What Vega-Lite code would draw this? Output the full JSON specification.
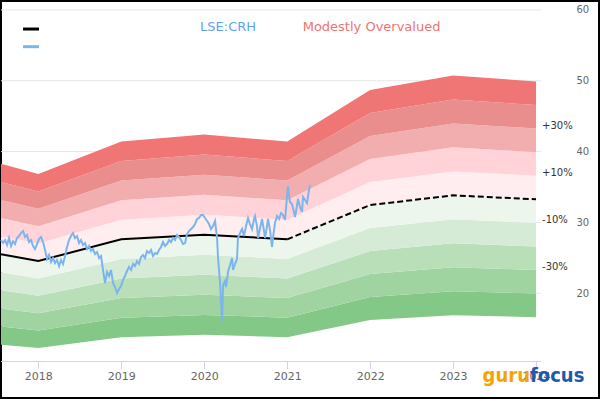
{
"$schema": "https://vega.github.io/schema/vega-lite/v6.json",
"width": 598, "height": 397,
"autosize": {"type": "none"},
"padding": {"left": 1, "top": 1, "right": 1, "bottom": 22},
"background": "white",
"config": {"view": {"stroke": "#000000", "strokeWidth": 2}},
"datasets": {
"gfv": [
{"t":2017.55,"m50":12.76,"m40":15.31,"m30":17.86,"m20":20.42,"m10":22.97,"gf":25.52,"p10":28.07,"p20":30.62,"p30":33.18,"p40":35.73,"p50":38.28},
{"t":2018,"m50":12.28,"m40":14.74,"m30":17.19,"m20":19.65,"m10":22.10,"gf":24.56,"p10":27.02,"p20":29.47,"p30":31.93,"p40":34.38,"p50":36.84},
{"t":2019,"m50":13.81,"m40":16.57,"m30":19.33,"m20":22.10,"m10":24.86,"gf":27.62,"p10":30.38,"p20":33.14,"p30":35.91,"p40":38.67,"p50":41.43},
{"t":2020,"m50":14.14,"m40":16.96,"m30":19.79,"m20":22.62,"m10":25.44,"gf":28.27,"p10":31.10,"p20":33.92,"p30":36.75,"p40":39.58,"p50":42.41},
{"t":2021,"m50":13.81,"m40":16.57,"m30":19.33,"m20":22.10,"m10":24.86,"gf":27.62,"p10":30.38,"p20":33.14,"p30":35.91,"p40":38.67,"p50":41.43},
{"t":2022,"m50":16.23,"m40":19.48,"m30":22.72,"m20":25.97,"m10":29.21,"gf":32.46,"p10":35.71,"p20":38.95,"p30":42.20,"p40":45.44,"p50":48.69},
{"t":2023,"m50":16.92,"m40":20.30,"m30":23.68,"m20":27.06,"m10":30.45,"gf":33.83,"p10":37.21,"p20":40.60,"p30":43.98,"p40":47.36,"p50":50.75},
{"t":2024,"m50":16.64,"m40":19.96,"m30":23.29,"m20":26.62,"m10":29.94,"gf":33.27,"p10":36.60,"p20":39.92,"p30":43.25,"p40":46.58,"p50":49.91}
],
"price": [
{"t":2017.550,"price":27.52},{"t":2017.574,"price":27.10},{"t":2017.599,"price":27.52},{"t":2017.623,"price":26.82},{"t":2017.647,"price":27.81},{"t":2017.671,"price":26.68},{"t":2017.695,"price":27.38},{"t":2017.719,"price":26.96},{"t":2017.743,"price":27.81},{"t":2017.767,"price":28.09},{"t":2017.791,"price":28.51},{"t":2017.816,"price":28.79},{"t":2017.840,"price":27.95},{"t":2017.864,"price":28.23},{"t":2017.888,"price":27.24},{"t":2017.912,"price":27.52},{"t":2017.936,"price":26.68},{"t":2017.960,"price":26.25},{"t":2017.984,"price":26.96},{"t":2018.008,"price":27.66},{"t":2018.033,"price":27.95},{"t":2018.057,"price":27.24},{"t":2018.081,"price":26.11},{"t":2018.105,"price":24.84},{"t":2018.129,"price":25.41},{"t":2018.153,"price":24.42},{"t":2018.177,"price":24.98},{"t":2018.201,"price":24.28},{"t":2018.225,"price":24.70},{"t":2018.250,"price":23.85},{"t":2018.274,"price":24.70},{"t":2018.298,"price":24.14},{"t":2018.322,"price":25.26},{"t":2018.346,"price":26.54},{"t":2018.370,"price":27.52},{"t":2018.394,"price":28.09},{"t":2018.418,"price":28.51},{"t":2018.442,"price":27.81},{"t":2018.467,"price":28.09},{"t":2018.491,"price":27.10},{"t":2018.515,"price":27.52},{"t":2018.539,"price":26.82},{"t":2018.563,"price":27.10},{"t":2018.587,"price":26.25},{"t":2018.611,"price":26.68},{"t":2018.635,"price":25.97},{"t":2018.659,"price":26.25},{"t":2018.684,"price":25.55},{"t":2018.708,"price":25.83},{"t":2018.732,"price":24.98},{"t":2018.756,"price":25.26},{"t":2018.780,"price":23.29},{"t":2018.804,"price":21.45},{"t":2018.828,"price":23.01},{"t":2018.852,"price":22.44},{"t":2018.876,"price":23.29},{"t":2018.901,"price":21.45},{"t":2018.925,"price":20.89},{"t":2018.949,"price":20.04},{"t":2018.973,"price":20.61},{"t":2018.997,"price":21.03},{"t":2019.021,"price":21.88},{"t":2019.045,"price":22.44},{"t":2019.069,"price":23.15},{"t":2019.093,"price":23.71},{"t":2019.118,"price":23.29},{"t":2019.142,"price":24.14},{"t":2019.166,"price":23.85},{"t":2019.190,"price":24.56},{"t":2019.214,"price":24.14},{"t":2019.238,"price":25.12},{"t":2019.262,"price":25.41},{"t":2019.286,"price":24.98},{"t":2019.310,"price":25.97},{"t":2019.335,"price":25.69},{"t":2019.359,"price":26.11},{"t":2019.383,"price":25.26},{"t":2019.407,"price":25.69},{"t":2019.431,"price":25.55},{"t":2019.455,"price":26.11},{"t":2019.479,"price":26.54},{"t":2019.503,"price":27.24},{"t":2019.527,"price":26.68},{"t":2019.552,"price":26.96},{"t":2019.576,"price":27.52},{"t":2019.600,"price":27.24},{"t":2019.624,"price":27.81},{"t":2019.648,"price":27.52},{"t":2019.672,"price":28.23},{"t":2019.696,"price":27.95},{"t":2019.720,"price":27.52},{"t":2019.744,"price":26.96},{"t":2019.769,"price":27.10},{"t":2019.793,"price":28.37},{"t":2019.817,"price":28.79},{"t":2019.841,"price":29.08},{"t":2019.865,"price":29.36},{"t":2019.889,"price":29.78},{"t":2019.913,"price":30.49},{"t":2019.937,"price":30.63},{"t":2019.961,"price":31.05},{"t":2019.986,"price":31.05},{"t":2020.010,"price":30.63},{"t":2020.034,"price":30.20},{"t":2020.058,"price":29.78},{"t":2020.082,"price":29.08},{"t":2020.106,"price":29.50},{"t":2020.130,"price":30.20},{"t":2020.154,"price":27.95},{"t":2020.166,"price":25.12},{"t":2020.190,"price":21.60},{"t":2020.215,"price":16.09},{"t":2020.227,"price":21.17},{"t":2020.251,"price":21.74},{"t":2020.263,"price":20.89},{"t":2020.287,"price":23.01},{"t":2020.311,"price":23.99},{"t":2020.335,"price":24.98},{"t":2020.347,"price":23.29},{"t":2020.371,"price":24.14},{"t":2020.395,"price":24.84},{"t":2020.407,"price":27.81},{"t":2020.432,"price":28.51},{"t":2020.456,"price":29.08},{"t":2020.480,"price":28.09},{"t":2020.504,"price":29.50},{"t":2020.528,"price":30.63},{"t":2020.552,"price":29.78},{"t":2020.576,"price":29.08},{"t":2020.600,"price":30.49},{"t":2020.612,"price":30.91},{"t":2020.636,"price":29.50},{"t":2020.649,"price":27.81},{"t":2020.673,"price":29.22},{"t":2020.697,"price":30.49},{"t":2020.721,"price":28.79},{"t":2020.733,"price":27.81},{"t":2020.757,"price":29.50},{"t":2020.769,"price":30.49},{"t":2020.793,"price":28.93},{"t":2020.817,"price":26.54},{"t":2020.829,"price":27.81},{"t":2020.853,"price":29.92},{"t":2020.878,"price":30.91},{"t":2020.902,"price":30.49},{"t":2020.926,"price":31.33},{"t":2020.950,"price":31.05},{"t":2020.974,"price":30.35},{"t":2020.986,"price":32.04},{"t":2021.010,"price":35.14},{"t":2021.022,"price":33.87},{"t":2021.034,"price":32.89},{"t":2021.058,"price":32.60},{"t":2021.082,"price":31.48},{"t":2021.095,"price":30.77},{"t":2021.119,"price":32.46},{"t":2021.131,"price":33.31},{"t":2021.155,"price":32.18},{"t":2021.179,"price":31.48},{"t":2021.191,"price":33.59},{"t":2021.215,"price":33.17},{"t":2021.239,"price":32.75},{"t":2021.263,"price":34.58},{"t":2021.275,"price":35.29}
],
"grid": [{"v":20},{"v":30},{"v":40},{"v":50},{"v":60}],
"pct": [{"label":"+30%","v":43.25},{"label":"+10%","v":36.60},{"label":"-10%","v":29.94},{"label":"-30%","v":23.29}],
"one": [{"k":1}]
},
"layer": [
{"data": {"name": "grid"}, "mark": {"type": "rule", "color": "#e6e6e6", "strokeWidth": 1},
 "encoding": {"x": {"datum": 2017.55}, "x2": {"datum": 2024.06},
  "y": {"field": "v", "type": "quantitative", "title": null,
   "scale": {"domain": [5.23, 61.256], "nice": false, "zero": false},
   "axis": {"orient": "right", "values": [20,30,40,50,60], "offset": -23, "domain": false, "grid": false, "ticks": false, "tickSize": 0,
     "labelPadding": 0, "labelAlign": "left", "labelBaseline": "middle", "labelColor": "#666666", "labelFontSize": 10, "labelFont": "DejaVu Sans"}}}},
{"data": {"name": "gfv"}, "mark": {"type": "area", "color": "#84c888", "opacity": 1},
 "encoding": {
  "x": {"field": "t", "type": "quantitative", "title": null,
    "scale": {"domain": [2017.55, 2024.759], "nice": false, "zero": false},
    "axis": {"values": [2018,2019,2020,2021,2022,2023,2024], "format": "d", "offset": -36.5, "domain": false, "grid": false,
      "ticks": true, "tickColor": "#ccd6eb", "tickSize": 7, "tickWidth": 1, "labelColor": "#666666", "labelFontSize": 11,
      "labelFont": "DejaVu Sans", "labelPadding": 2, "labelFlush": false}},
  "y": {"field": "m50", "type": "quantitative", "title": null}, "y2": {"field": "m40"}}},
{"data": {"name": "gfv"}, "mark": {"type": "area", "color": "#9fd3a0", "opacity": 1}, "encoding": {"x": {"field": "t", "type": "quantitative", "title": null}, "y": {"field": "m40", "type": "quantitative", "title": null}, "y2": {"field": "m30"}}},
{"data": {"name": "gfv"}, "mark": {"type": "area", "color": "#b8dfb8", "opacity": 1}, "encoding": {"x": {"field": "t", "type": "quantitative", "title": null}, "y": {"field": "m30", "type": "quantitative", "title": null}, "y2": {"field": "m20"}}},
{"data": {"name": "gfv"}, "mark": {"type": "area", "color": "#d5ebd5", "opacity": 1}, "encoding": {"x": {"field": "t", "type": "quantitative", "title": null}, "y": {"field": "m20", "type": "quantitative", "title": null}, "y2": {"field": "m10"}}},
{"data": {"name": "gfv"}, "mark": {"type": "area", "color": "#ecf6ec", "opacity": 1}, "encoding": {"x": {"field": "t", "type": "quantitative", "title": null}, "y": {"field": "m10", "type": "quantitative", "title": null}, "y2": {"field": "gf"}}},
{"data": {"name": "gfv"}, "mark": {"type": "area", "color": "#ffedef", "opacity": 1}, "encoding": {"x": {"field": "t", "type": "quantitative", "title": null}, "y": {"field": "gf", "type": "quantitative", "title": null}, "y2": {"field": "p10"}}},
{"data": {"name": "gfv"}, "mark": {"type": "area", "color": "#ffd3d8", "opacity": 1}, "encoding": {"x": {"field": "t", "type": "quantitative", "title": null}, "y": {"field": "p10", "type": "quantitative", "title": null}, "y2": {"field": "p20"}}},
{"data": {"name": "gfv"}, "mark": {"type": "area", "color": "#f2aeae", "opacity": 1}, "encoding": {"x": {"field": "t", "type": "quantitative", "title": null}, "y": {"field": "p20", "type": "quantitative", "title": null}, "y2": {"field": "p30"}}},
{"data": {"name": "gfv"}, "mark": {"type": "area", "color": "#ea8d8d", "opacity": 1}, "encoding": {"x": {"field": "t", "type": "quantitative", "title": null}, "y": {"field": "p30", "type": "quantitative", "title": null}, "y2": {"field": "p40"}}},
{"data": {"name": "gfv"}, "mark": {"type": "area", "color": "#f07575", "opacity": 1}, "encoding": {"x": {"field": "t", "type": "quantitative", "title": null}, "y": {"field": "p40", "type": "quantitative", "title": null}, "y2": {"field": "p50"}}},
{"data": {"name": "gfv"}, "transform": [{"filter": "datum.t <= 2021"}], "mark": {"type": "line", "color": "#000000", "strokeWidth": 2},
 "encoding": {"x": {"field": "t", "type": "quantitative", "title": null}, "y": {"field": "gf", "type": "quantitative", "title": null}}},
{"data": {"name": "gfv"}, "transform": [{"filter": "datum.t >= 2021"}], "mark": {"type": "line", "color": "#000000", "strokeWidth": 2, "strokeDash": [6, 3]},
 "encoding": {"x": {"field": "t", "type": "quantitative", "title": null}, "y": {"field": "gf", "type": "quantitative", "title": null}}},
{"data": {"name": "price"}, "mark": {"type": "line", "color": "#7cb5ec", "strokeWidth": 2},
 "encoding": {"x": {"field": "t", "type": "quantitative", "title": null}, "y": {"field": "price", "type": "quantitative", "title": null}}},
{"data": {"name": "one"}, "mark": {"type": "rule", "color": "#ccd6eb", "strokeWidth": 1},
 "encoding": {"x": {"datum": 2017.55}, "x2": {"datum": 2024.06}, "y": {"datum": 10.37}}},
{"data": {"name": "one"}, "mark": {"type": "rule", "color": "#000000", "strokeWidth": 3},
 "encoding": {"x": {"datum": 2017.816}, "x2": {"datum": 2018.008}, "y": {"datum": 57.3}}},
{"data": {"name": "one"}, "mark": {"type": "rule", "color": "#7cb5ec", "strokeWidth": 3},
 "encoding": {"x": {"datum": 2017.816}, "x2": {"datum": 2018.008}, "y": {"datum": 54.81}}},
{"data": {"name": "one"}, "mark": {"type": "text", "text": "LSE:CRH", "color": "#5fa3ec", "font": "DejaVu Sans", "fontSize": 13, "align": "center", "baseline": "alphabetic"},
 "encoding": {"x": {"datum": 2020.287}, "y": {"datum": 57.06}}},
{"data": {"name": "one"}, "mark": {"type": "text", "text": "Modestly Overvalued", "color": "#f07373", "font": "DejaVu Sans", "fontSize": 13, "align": "center", "baseline": "alphabetic"},
 "encoding": {"x": {"datum": 2022.017}, "y": {"datum": 57.06}}},
{"data": {"name": "pct"}, "mark": {"type": "text", "color": "#333333", "font": "DejaVu Sans", "fontSize": 10, "align": "left", "baseline": "middle", "dx": 6, "dy": -3},
 "encoding": {"x": {"datum": 2024}, "y": {"field": "v", "type": "quantitative", "title": null}, "text": {"field": "label"}}},
{"data": {"name": "one"}, "mark": {"type": "text", "text": "guru", "color": "#f5a300", "font": "DejaVu Sans Condensed", "fontWeight": "bold", "fontSize": 20, "align": "right", "baseline": "alphabetic"},
 "encoding": {"x": {"datum": 2023.927}, "y": {"datum": 7.48}}},
{"data": {"name": "one"}, "mark": {"type": "text", "text": "focus", "color": "#1e5aa8", "font": "DejaVu Sans Condensed", "fontWeight": "bold", "fontSize": 20, "align": "left", "baseline": "alphabetic"},
 "encoding": {"x": {"datum": 2023.927}, "y": {"datum": 7.48}}}
]
}
